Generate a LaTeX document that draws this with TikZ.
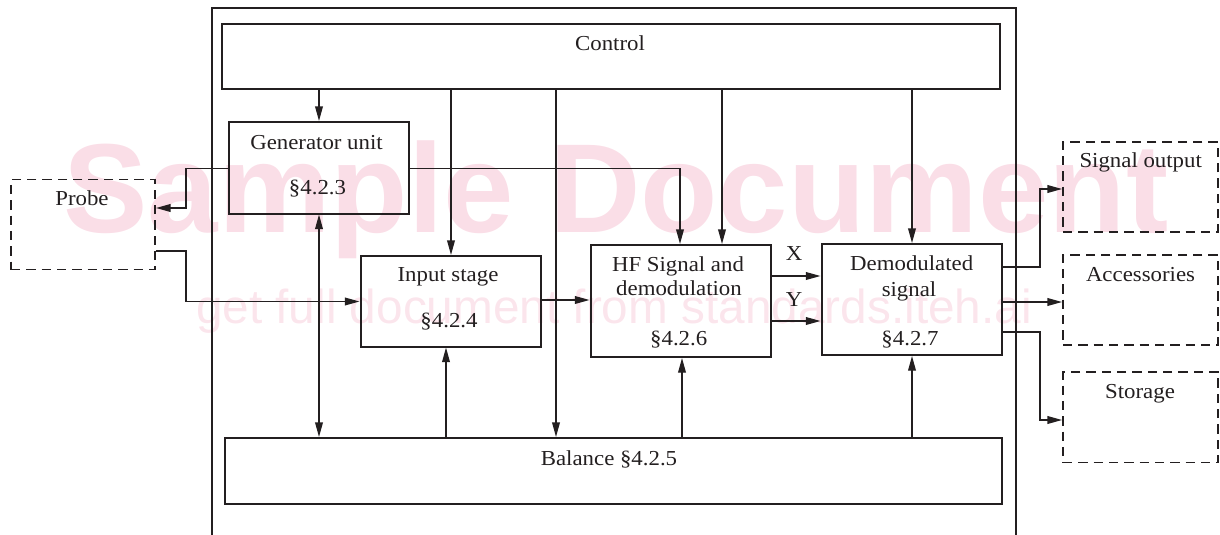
\documentclass[tikz,border=0pt]{standalone}
\usepackage{fontspec}
\setmainfont{Liberation Serif}[FakeStretch=1.07]
\newfontfamily\wmfont{Liberation Sans}
\usetikzlibrary{arrows.meta,fit}
\definecolor{wmpink}{RGB}{250,222,231}
\definecolor{wmpinklt}{RGB}{251,229,236}
\definecolor{ink}{RGB}{35,31,32}
\begin{document}
\begin{tikzpicture}[x=0.75pt,y=-0.75pt,
  box/.style={draw=ink, line width=1.5pt, inner sep=0pt},
  dbox/.style={draw=ink, line width=1.4pt, dash pattern=on 7pt off 4.5pt, inner sep=0pt},
  wire/.style={draw=ink, line width=1pt},
  arr/.style={wire, -{Triangle[length=11pt,width=5.8pt]}},
  darr/.style={wire, {Triangle[length=11pt,width=5.8pt]}-{Triangle[length=11pt,width=5.8pt]}},
  lbl/.style={anchor=base, inner sep=0pt, font=\fontsize{16}{19}\selectfont, text=ink},
  wm/.style={anchor=base, inner sep=0pt},
]
\useasboundingbox (0,0) rectangle (1220,535);

% watermark
\node[wm, text=wmpink, font=\wmfont\bfseries\fontsize{95}{100}\selectfont] (wm1) at (616,232) {Sample Document};
\node[wm, text=wmpinklt, font=\wmfont\fontsize{35.8}{40}\selectfont] (wm2) at (614,323) {get full document from standards.iteh.ai};

% outer frame
\draw[ink, line width=1.5pt] (212,545) -- (212,8) -- (1016,8) -- (1016,545);

% boxes
\node[box, fit={(222,24)(1000,89.5)}] (ctrl) {};
\node[box, fit={(229,122)(409,213.5)}] (gen) {};
\node[box, fit={(360.5,256)(540.5,346.5)}] (inp) {};
\node[box, fit={(590.5,245)(771,357)}] (hf) {};
\node[box, fit={(821.5,244)(1001.5,355)}] (dem) {};
\node[box, fit={(225,438)(1001.5,504)}] (bal) {};
\node[dbox, fit={(11,179.5)(155,269.5)}] (probe) {};
\node[dbox, fit={(1063,142)(1218,232)}] (sigout) {};
\node[dbox, fit={(1063,255)(1218,345)}] (acc) {};
\node[dbox, fit={(1063,372)(1218,462.5)}] (stor) {};

% labels
\node[lbl] (tctrl) at (610,51) {Control};
\node[lbl] (tgen1) at (316.5,149) {Generator unit};
\node[lbl] (tgen2) at (317.5,194) {§4.2.3};
\node[lbl] (tinp1) at (448,281.7) {Input stage};
\node[lbl] (tinp2) at (449,327) {§4.2.4};
\node[lbl] (thf1) at (678,271.7) {HF Signal and};
\node[lbl] (thf2) at (679,295.7) {demodulation};
\node[lbl] (thf3) at (678.7,345.7) {§4.2.6};
\node[lbl] (tdem1) at (911.7,270) {Demodulated};
\node[lbl] (tdem2) at (909,296) {signal};
\node[lbl] (tdem3) at (910,345.7) {§4.2.7};
\node[lbl] (tbal) at (609,465) {Balance §4.2.5};
\node[lbl] (tprobe) at (82,205) {Probe};
\node[lbl] (tsig) at (1140.7,167.3) {Signal output};
\node[lbl] (tacc) at (1140.5,281) {Accessories};
\node[lbl] (tstor) at (1140,398) {Storage};
\node[lbl] (tX) at (794,260) {X};
\node[lbl] (tY) at (794,306) {Y};

% helper coordinates
\coordinate (cA) at (319,0);
\coordinate (cB) at (451,0);
\coordinate (cC) at (556,0);
\coordinate (cD) at (680,0);
\coordinate (cE) at (722,0);
\coordinate (cF) at (446,0);
\coordinate (cG) at (682,0);
\coordinate (cH) at (912,0);
\coordinate (kx) at (186,0);
\coordinate (kr) at (1040,0);
\coordinate (r1) at (0,168.5);
\coordinate (r2) at (0,208);
\coordinate (r3) at (0,251);
\coordinate (r4) at (0,301.5);
\coordinate (r5) at (0,300);
\coordinate (rX) at (0,276);
\coordinate (rY) at (0,321);
\coordinate (o1) at (0,267);
\coordinate (o1t) at (0,189);
\coordinate (o2) at (0,302);
\coordinate (o3) at (0,332);
\coordinate (o3t) at (0,420);

% connectors
\draw[arr] (ctrl.south -| cA) -- (gen.north -| cA);
\draw[arr] (ctrl.south -| cB) -- (inp.north -| cB);
\draw[arr] (ctrl.south -| cC) -- (bal.north -| cC);
\draw[arr] (ctrl.south -| cE) -- (hf.north -| cE);
\draw[arr] (ctrl.south -| cH) -- (dem.north -| cH);
\draw[darr] (gen.south -| cA) -- (bal.north -| cA);
\draw[arr] (bal.north -| cF) -- (inp.south -| cF);
\draw[arr] (bal.north -| cG) -- (hf.south -| cG);
\draw[arr] (bal.north -| cH) -- (dem.south -| cH);
\draw[arr] (gen.east |- r1) -| (hf.north -| cD);
\draw[arr] (gen.west |- r1) -- (kx |- r1) -- (kx |- r2) -- (probe.east |- r2);
\draw[arr] (probe.east |- r3) -- (kx |- r3) -- (kx |- r4) -- (inp.west |- r4);
\draw[arr] (inp.east |- r5) -- (hf.west |- r5);
\draw[arr] (hf.east |- rX) -- (dem.west |- rX);
\draw[arr] (hf.east |- rY) -- (dem.west |- rY);
\draw[arr] (dem.east |- o1) -- (kr |- o1) -- (kr |- o1t) -- (sigout.west |- o1t);
\draw[arr] (dem.east |- o2) -- (acc.west |- o2);
\draw[arr] (dem.east |- o3) -- (kr |- o3) -- (kr |- o3t) -- (stor.west |- o3t);
\end{tikzpicture}
\end{document}
